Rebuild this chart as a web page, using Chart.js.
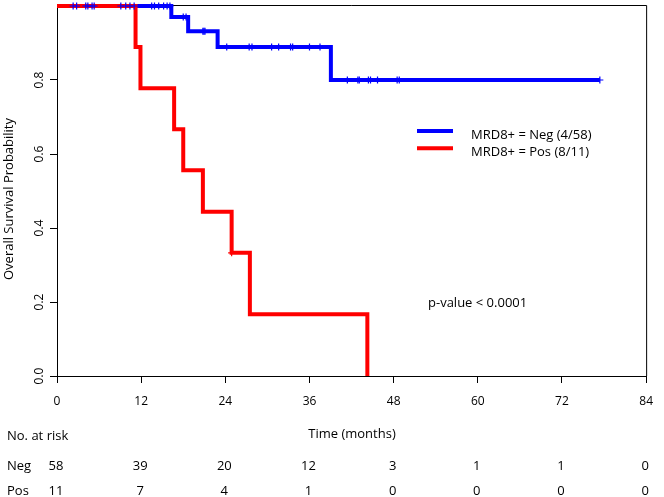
<!DOCTYPE html>
<html>
<head>
<meta charset="utf-8">
<script src="https://cdn.jsdelivr.net/npm/chart.js@4"></script>
<style>
  html, body { margin: 0; padding: 0; background: #fff; }
  canvas { display: block; }
</style>
</head>
<body>
<canvas id="kmChart" width="664" height="497"></canvas>
<script>
const xTicks = [0, 12, 24, 36, 48, 60, 72, 84];
const yTicks = [0, 0.2, 0.4, 0.6, 0.8];

const negStepTimes = [0, 16.3, 18.7, 22.9, 39.05, 77.4];
const negStepSurv  = [1, 0.970, 0.932, 0.889, 0.800, 0.800];
const negCensorTimes = [2.3, 2.8, 4.1, 4.4, 5.0, 5.3, 9.1, 9.8, 10.4, 11.0, 13.5, 13.9, 14.5, 15.2, 15.7, 16.1,
                        18.0, 18.4, 20.8, 20.95, 21.1, 24.2, 27.4, 27.8, 30.6, 31.6, 33.3, 33.6, 36.0, 37.5,
                        41.4, 42.9, 43.1, 44.4, 44.7, 45.7, 48.5, 48.8, 77.4];

const posStepTimes = [0, 11.2, 11.9, 16.7, 18.0, 20.8, 24.9, 27.5, 44.25];
const posStepSurv  = [1, 0.889, 0.778, 0.667, 0.556, 0.444, 0.333, 0.167, 0];
const posCensorTimes = [24.9];

const negAtRisk = [58, 39, 20, 12, 3, 1, 1, 0];
const posAtRisk = [11, 7, 4, 1, 0, 0, 0, 0];

const negLabel = "MRD8+ = Neg (4/58)";
const posLabel = "MRD8+ = Pos (8/11)";
const pValueText = "p-value < 0.0001";

const BLUE = "#0000ff";
const RED = "#ff0000";
const FONT = '"Open Sans", sans-serif';

const toPoints = (times, surv) => times.map((t, i) => ({ x: t, y: surv[i] }));

// survival value of a step curve at time t (used to place censor marks on the curve)
const survAt = (times, surv, t) => {
    let s = surv[0];
    times.forEach((tt, i) => { if (tt <= t) s = surv[i]; });
    return s;
};

const censorPoints = (censors, times, surv) => censors.map(t => ({ x: t, y: survAt(times, surv, t) }));

const kmDecor = {
    id: "kmDecor",
    beforeDatasetsDraw(chart) {
        const { ctx, chartArea: a } = chart;
        ctx.save();
        ctx.strokeStyle = "#000";
        ctx.lineWidth = 1;
        ctx.beginPath();
        ctx.moveTo(a.left, a.top - 0.5);
        ctx.lineTo(a.right + 0.5, a.top - 0.5);
        ctx.lineTo(a.right + 0.5, a.bottom);
        ctx.stroke();
        ctx.restore();
    },
    afterDraw(chart) {
        const { ctx, scales: { x, y } } = chart;
        ctx.save();
        ctx.fillStyle = "#000";

        // y tick labels, rotated like base R
        ctx.font = `12px ${FONT}`;
        ctx.textAlign = "center";
        ctx.textBaseline = "alphabetic";
        yTicks.forEach(v => {
            ctx.save();
            ctx.translate(42.5, y.getPixelForValue(v));
            ctx.rotate(-Math.PI / 2);
            ctx.fillText(v.toFixed(1), 0, 0);
            ctx.restore();
        });

        ctx.font = `13px ${FONT}`;
        ctx.save();
        ctx.translate(13, 199);
        ctx.rotate(-Math.PI / 2);
        ctx.fillText("Overall Survival Probability", 0, 0);
        ctx.restore();

        ctx.fillText("Time (months)", 352, 437.5);

        // legend inside the plot
        ctx.lineWidth = 4;
        [[BLUE, negLabel, 131, 139], [RED, posLabel, 148.3, 155.5]].forEach(([col, txt, ly, by]) => {
            ctx.strokeStyle = col;
            ctx.beginPath();
            ctx.moveTo(417, ly);
            ctx.lineTo(453, ly);
            ctx.stroke();
            ctx.textAlign = "left";
            ctx.fillText(txt, 471, by);
        });

        ctx.fillText(pValueText, 428, 307);

        // number at risk table
        ctx.textAlign = "left";
        ctx.fillText("No. at risk", 7, 440);
        ctx.fillText("Neg", 7, 469.5);
        ctx.fillText("Pos", 7, 495);
        ctx.textAlign = "center";
        xTicks.forEach((t, i) => {
            const px = x.getPixelForValue(t) - 1;
            ctx.fillText(String(negAtRisk[i]), px, 469.5);
            ctx.fillText(String(posAtRisk[i]), px, 495);
        });
        ctx.restore();
    }
};

const lineStyle = { pointRadius: 0, borderWidth: 4, stepped: true, fill: false, clip: false,
                    borderCapStyle: "butt", borderJoinStyle: "miter" };
const censorStyle = { showLine: false, pointStyle: "cross", pointRadius: 3.5, pointBorderWidth: 1.2, clip: false };

new Chart(document.getElementById("kmChart"), {
    type: "line",
    data: {
        datasets: [
            { label: "neg censored", data: censorPoints(negCensorTimes, negStepTimes, negStepSurv),
              borderColor: BLUE, order: 0, ...censorStyle },
            { label: "pos censored", data: censorPoints(posCensorTimes, posStepTimes, posStepSurv),
              borderColor: RED, order: 1, ...censorStyle },
            { label: posLabel, data: toPoints(posStepTimes, posStepSurv), borderColor: RED, order: 2, ...lineStyle },
            { label: negLabel, data: toPoints(negStepTimes, negStepSurv), borderColor: BLUE, order: 3, ...lineStyle }
        ]
    },
    options: {
        responsive: false,
        animation: false,
        devicePixelRatio: 1,
        events: [],
        layout: { padding: { top: 6, right: 9, left: 0, bottom: 0 } },
        plugins: { legend: { display: false }, tooltip: { enabled: false } },
        scales: {
            x: {
                type: "linear", min: 0, max: 84,
                afterBuildTicks: s => { s.ticks = xTicks.map(v => ({ value: v })); },
                afterFit: s => { s.height = 121; },
                grid: { drawOnChartArea: false, tickLength: 7, tickColor: "#000" },
                border: { color: "#000", width: 1 },
                ticks: { color: "#000", font: { family: FONT, size: 12 }, padding: 11, maxRotation: 0, autoSkip: false }
            },
            y: {
                type: "linear", min: 0, max: 1,
                afterBuildTicks: s => { s.ticks = yTicks.map(v => ({ value: v })); },
                afterFit: s => { s.width = 57; },
                grid: { drawOnChartArea: false, tickLength: 7, tickColor: "#000" },
                border: { color: "#000", width: 1 },
                ticks: { display: false }
            }
        }
    },
    plugins: [kmDecor]
});
</script>
</body>
</html>
